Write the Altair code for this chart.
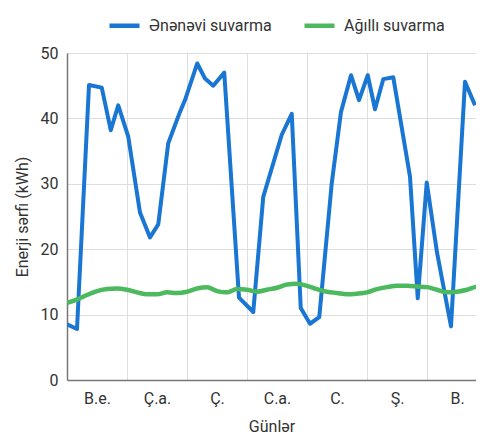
import altair as alt
import pandas as pd

days = ["B.e.", "Ç.a.", "Ç.", "C.a.", "C.", "Ş.", "B."]
series_names = ["Ənənəvi suvarma", "Ağıllı suvarma"]

# traditional irrigation (hours since start of week, kWh)
blue_hours = [0, 4, 8.8, 13.9, 17.5, 20.5, 24.5, 29.2, 33.2, 36.5, 40.5, 45.2, 47.2,
              52.1, 55.2, 58.5, 62.9, 68.8, 74.5, 78.5, 85.9, 89.9, 93.5, 97.2, 100.9,
              105.9, 109.6, 113.6, 116.8, 120.3, 123.2, 126.5, 130.5, 137.2, 140.3,
              143.9, 148, 153.6, 159.2, 163.2]
blue_values = [8.5, 7.8, 45.1, 44.7, 38.2, 42.0, 37.2, 25.6, 21.8, 23.8, 36.2, 41.0, 42.8,
               48.4, 46.1, 45.0, 47.0, 12.6, 10.4, 28.0, 37.5, 40.7, 11.0, 8.6, 9.6,
               30.1, 41.0, 46.6, 42.8, 46.6, 41.4, 46.0, 46.3, 31.1, 12.5,
               30.2, 19.5, 8.2, 45.6, 42.0]

# smart irrigation
green_hours = [0, 4, 8, 12, 16, 20, 24, 28, 32, 36, 40, 44, 48, 52, 56, 60, 64, 68, 72,
               76, 80, 84, 88, 92, 96, 100, 104, 108, 112, 116, 120, 124, 128, 132, 136,
               140, 144, 148, 152, 156, 160, 164, 168]
green_values = [11.8, 12.3, 13.0, 13.6, 13.9, 14.0, 13.8, 13.4, 13.1, 13.1, 13.4, 13.3, 13.5,
                14.0, 14.2, 13.6, 13.4, 13.9, 13.8, 13.5, 13.8, 14.1, 14.6, 14.7, 14.4,
                13.9, 13.5, 13.3, 13.1, 13.2, 13.4, 13.9, 14.2, 14.4, 14.4, 14.3, 14.2,
                13.8, 13.4, 13.5, 13.8, 14.3, 14.5]

BLUE = "#1976d2"
GREEN = "#4db95e"
FONT = "Roboto"
TXT = "#333333"

df = pd.concat([
    pd.DataFrame({"hour": blue_hours, "value": blue_values, "series": series_names[0]}),
    pd.DataFrame({"hour": green_hours, "value": green_values, "series": series_names[1]}),
])

label_expr = "[" + ",".join("'" + d + "'" for d in days) + "][round(datum.value/24)]"

x = alt.X("hour:Q",
          scale=alt.Scale(domain=[0, 163.6], nice=False, zero=False),
          axis=alt.Axis(values=[0, 24, 48, 72, 96, 120, 144], labelExpr=label_expr,
                        labelOffset=30, labelFlush=False, labelOverlap=False,
                        labelBound=False,
                        ticks=False, grid=True, labelPadding=10, title="Günlər",
                        titlePadding=12))
y = alt.Y("value:Q",
          scale=alt.Scale(domain=[0, 50], nice=False),
          axis=alt.Axis(values=[0, 10, 20, 30, 40, 50], ticks=False, labelPadding=9,
                        title="Enerji sərfi (kWh)", titlePadding=10))
color = alt.Color("series:N",
                  scale=alt.Scale(domain=series_names, range=[BLUE, GREEN]),
                  title=None,
                  legend=alt.Legend(orient="none", legendX=40, legendY=-45,
                                    direction="horizontal", symbolType="stroke",
                                    symbolStrokeWidth=4.5, symbolSize=900,
                                    labelFontSize=16, labelColor=TXT, labelFont=FONT,
                                    labelOffset=7, columnPadding=23, padding=0))

base = alt.Chart(df).encode(x=x, y=y, color=color)
blue = base.transform_filter(alt.datum.series == series_names[0]).mark_line(
    strokeWidth=4, interpolate="linear", strokeJoin="round", clip=True)
green = base.transform_filter(alt.datum.series == series_names[1]).mark_line(
    strokeWidth=4.5, interpolate="monotone", clip=True)

chart = alt.layer(blue, green).properties(
    width=409, height=327,
    padding={"left": 6, "top": 0, "right": 0, "bottom": 2},
    background="white",
).configure_view(stroke=None).configure_axis(
    labelFont=FONT, titleFont=FONT, labelFontSize=16, titleFontSize=16,
    labelColor=TXT, titleColor=TXT, titleFontWeight="normal",
    gridColor="#dedede", gridWidth=1, domainColor="#777777", domainWidth=1.5,
)

chart.save("out.html", embed_options={"renderer": "svg", "actions": False})
